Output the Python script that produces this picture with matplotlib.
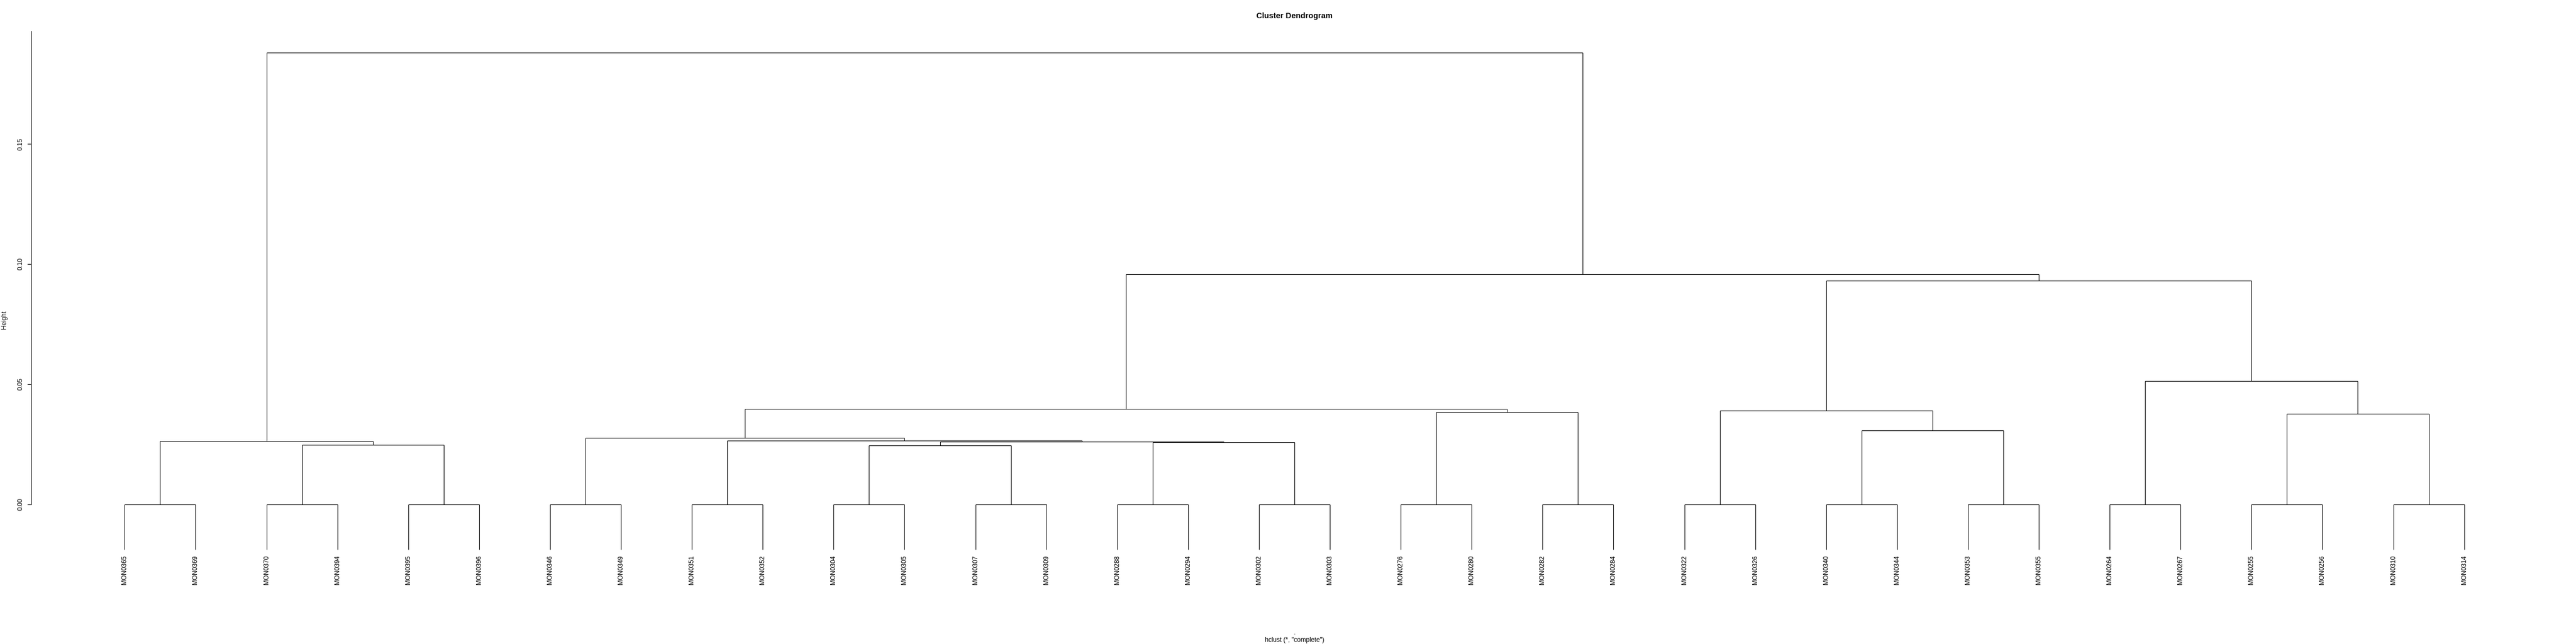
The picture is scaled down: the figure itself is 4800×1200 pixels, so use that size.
import matplotlib
matplotlib.use('Agg')
import matplotlib.pyplot as plt
import matplotlib.transforms as mtransforms

plt.rcParams['font.family'] = ['Liberation Sans', 'DejaVu Sans']

# ---- data -------------------------------------------------------------
leaf_labels = ["MON0365", "MON0369", "MON0370", "MON0394", "MON0395", "MON0396",
               "MON0346", "MON0349", "MON0351", "MON0352", "MON0304", "MON0305",
               "MON0307", "MON0309", "MON0288", "MON0294", "MON0302", "MON0303",
               "MON0276", "MON0280", "MON0282", "MON0284", "MON0322", "MON0326",
               "MON0340", "MON0344", "MON0353", "MON0355", "MON0264", "MON0267",
               "MON0255", "MON0256", "MON0310", "MON0314"]

# R-style merge matrix: negative = leaf (position in order), positive = earlier merge
merge_left = [-1, -3, -5, -7, -9, -11, -13, -15, -17, -19, -21, -23, -25, -27, -29, -31, -33,
              6, 2, 8, 18, 1, 5, 4, 13, 16, 10, 12, 24, 15, 28, 29, 22]
merge_right = [-2, -4, -6, -8, -10, -12, -14, -16, -18, -20, -22, -24, -26, -28, -30, -32, -34,
               7, 3, 9, 20, 19, 21, 23, 14, 17, 11, 25, 27, 26, 30, 31, 32]
merge_height = [0.0, 0.0, 0.0, 0.0, 0.0, 0.0, 0.0, 0.0, 0.0, 0.0, 0.0, 0.0, 0.0, 0.0, 0.0, 0.0, 0.0,
                0.02455, 0.02478, 0.02574, 0.02604, 0.02634, 0.02656, 0.02768, 0.03080,
                0.03772, 0.03824, 0.03906, 0.03973, 0.05126, 0.0930, 0.0957, 0.1880]

y_ticks = [0.00, 0.05, 0.10, 0.15]
y_tick_labels = ["0.00", "0.05", "0.10", "0.15"]

title = "Cluster Dendrogram"
ylabel = "Height"
xlabel = "."
sub = 'hclust (*, "complete")'

hang = 0.1 * (max(merge_height) - min(merge_height))

# ---- figure -------------------------------------------------------------
W, H = 4800, 1200
fig = plt.figure(figsize=(48, 12), dpi=100)
ax_left, ax_right = 58 / W, 4766 / W
ax_top, ax_bot = 1 - 58 / H, 1 - 1134 / H
ax = fig.add_axes([ax_left, ax_bot, ax_right - ax_left, ax_top - ax_bot])

n = len(leaf_labels)
xpad = 0.04 * (n - 1)
ax.set_xlim(1 - xpad, n + xpad)
ytop = 0.1969
ybot = -0.0434
ax.set_ylim(ybot, ytop)

node_x = {}
lw = 0.8
col = 'black'
leaf_bottom = {}
for k, (l, r, h) in enumerate(zip(merge_left, merge_right, merge_height), start=1):
    xs = []
    for c in (l, r):
        if c < 0:
            cx = -c
            cy = h - hang
            leaf_bottom[-c] = cy
        else:
            cx = node_x[c]
            cy = merge_height[c - 1]
        ax.plot([cx, cx], [cy, h], color=col, lw=lw, solid_capstyle='butt')
        xs.append(cx)
    ax.plot([xs[0], xs[1]], [h, h], color=col, lw=lw, solid_capstyle='butt')
    node_x[k] = (xs[0] + xs[1]) / 2

for i, lab in enumerate(leaf_labels, start=1):
    ax.annotate(lab, (i, leaf_bottom[i]), xytext=(0, -8), textcoords='offset points',
                rotation=90, ha='center', va='top', fontsize=8.6, annotation_clip=False)

for s in ['top', 'right', 'bottom']:
    ax.spines[s].set_visible(False)
ax.spines['left'].set_bounds(0, ytop)
ax.spines['left'].set_linewidth(0.8)
ax.set_xticks([])
ax.set_yticks(y_ticks)
ax.set_yticklabels(y_tick_labels, rotation=90, va='center')
ax.tick_params(axis='y', length=5, width=0.8, pad=5, labelsize=8.6)

tr = mtransforms.blended_transform_factory(ax.transAxes, fig.transFigure)
ax.text(0.5, 1 - 30 / H, title, transform=tr, ha='center', va='center',
        fontsize=10.5, fontweight='bold')
ax.text(0.5, 1 - 1182 / H, xlabel, transform=tr, ha='center', va='baseline', fontsize=8.6)
ax.text(0.5, 1 - 1196 / H, sub, transform=tr, ha='center', va='baseline', fontsize=8.6)
fig.text(8 / W, 1 - 596 / H, ylabel, rotation=90, ha='center', va='center', fontsize=8.6)

fig.savefig('out.png', dpi=100, facecolor='white')
